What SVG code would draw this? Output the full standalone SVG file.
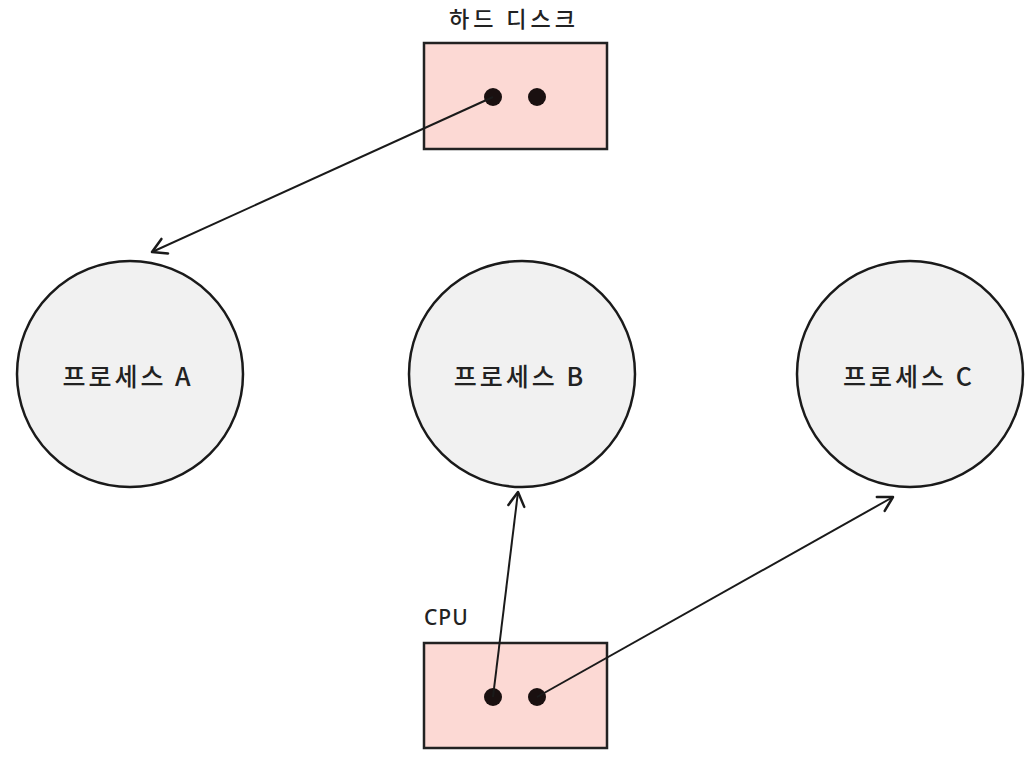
<svg xmlns="http://www.w3.org/2000/svg" width="1035" height="757" viewBox="0 0 1035 757">
<style>
.box{fill:#fcd9d4;stroke:#222;stroke-width:2.5}
.proc{fill:#f1f1f1;stroke:#1a1a1a;stroke-width:2.5}
.dot{fill:#1a1010}
.lbl{font-family:"Noto Sans CJK KR","Noto Sans",sans-serif;fill:#222;text-anchor:middle;font-weight:500}
.conn{stroke:#1a1a1a;stroke-width:2;fill:none;marker-end:url(#arr)}
</style>
<defs>
<marker id="arr" viewBox="0 0 20 20" refX="18" refY="10" markerWidth="20" markerHeight="20" markerUnits="userSpaceOnUse" orient="auto">
<path d="M4,2 L18,10 L4,18" fill="none" stroke="#1a1a1a" stroke-width="2.5" stroke-linecap="round" stroke-linejoin="round"/>
</marker>
</defs>
<rect width="1035" height="757" fill="#ffffff"/>
<g id="harddisk">
<text class="lbl" x="514" y="27" font-size="22" letter-spacing="4">하드 디스크</text>
<rect class="box" x="424" y="43" width="183" height="106"/>
<circle class="dot" cx="493" cy="97" r="9"/>
<circle class="dot" cx="537" cy="97" r="9"/>
</g>
<g id="procA">
<circle class="proc" cx="130" cy="374" r="113"/>
<text class="lbl" x="128" y="386" font-size="25" letter-spacing="3">프로세스 A</text>
</g>
<g id="procB">
<circle class="proc" cx="522" cy="374" r="113"/>
<text class="lbl" x="520" y="386" font-size="25" letter-spacing="3">프로세스 B</text>
</g>
<g id="procC">
<circle class="proc" cx="910" cy="374" r="113"/>
<text class="lbl" x="909" y="386" font-size="25" letter-spacing="3">프로세스 C</text>
</g>
<g id="cpu">
<text x="424" y="625" font-size="21" font-weight="500" letter-spacing="1" font-family="Noto Sans,sans-serif" fill="#222">CPU</text>
<rect class="box" x="424" y="643" width="183" height="105"/>
<circle class="dot" cx="493" cy="697" r="9"/>
<circle class="dot" cx="537" cy="697" r="9"/>
</g>
<g id="connectors">
<line class="conn" x1="493" y1="97" x2="152" y2="252"/>
<line class="conn" x1="493" y1="697" x2="518" y2="492"/>
<line class="conn" x1="537" y1="697" x2="893" y2="497"/>
</g>
</svg>
